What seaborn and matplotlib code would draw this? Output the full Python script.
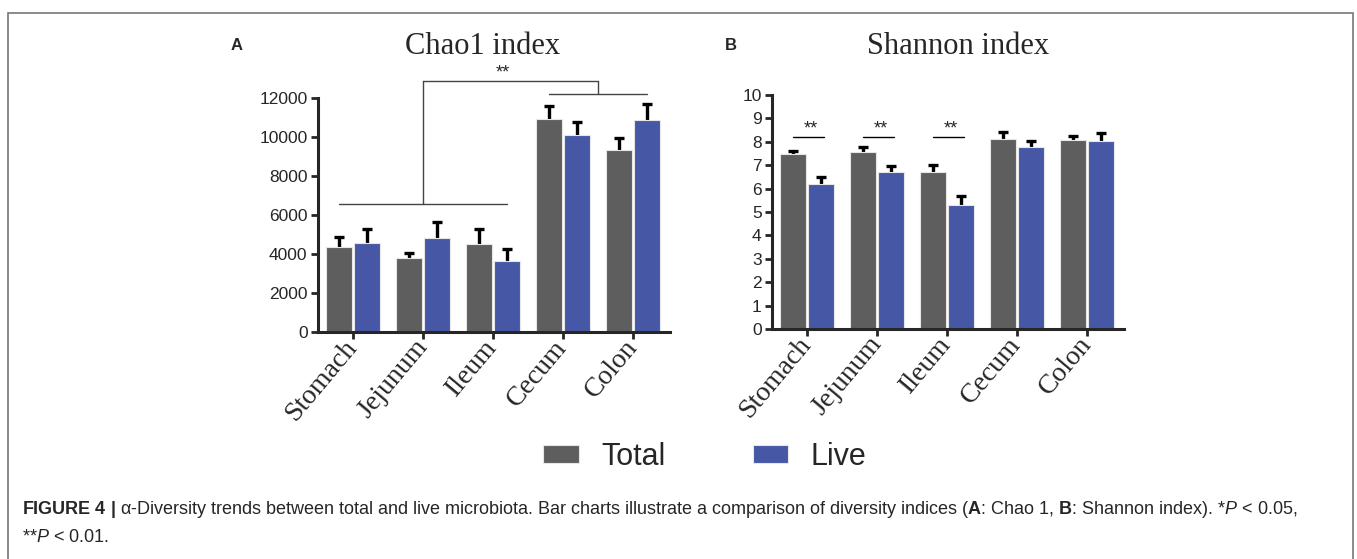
import numpy as np
import pandas as pd
import matplotlib
matplotlib.use('Agg')
import matplotlib.pyplot as plt
import seaborn as sns
from matplotlib.patches import Rectangle

# Data
sites = ['Stomach', 'Jejunum', 'Ileum', 'Cecum', 'Colon']
groups = ['Total', 'Live']

chao_total = [4360, 3800, 4530, 10940, 9350]
chao_total_err = [510, 250, 750, 630, 600]
chao_live = [4560, 4820, 3660, 10120, 10890]
chao_live_err = [720, 840, 600, 650, 790]

shannon_total = [7.46, 7.58, 6.72, 8.13, 8.08]
shannon_total_err = [0.16, 0.18, 0.29, 0.29, 0.18]
shannon_live = [6.18, 6.70, 5.30, 7.76, 8.05]
shannon_live_err = [0.33, 0.28, 0.40, 0.27, 0.31]

shannon_sig_sites = [0, 1, 2]

colors = {'Total': '#5e5e5e', 'Live': '#4657a6'}

W, H = 1357, 559

sns.set_style('ticks')
plt.rcParams['font.family'] = ['Liberation Sans', 'DejaVu Sans']
plt.rcParams['mathtext.fontset'] = 'custom'
plt.rcParams['mathtext.rm'] = 'Liberation Sans'
plt.rcParams['mathtext.it'] = 'Liberation Sans:italic'
plt.rcParams['mathtext.bf'] = 'Liberation Sans:bold'


def make_df(total, live):
    return pd.DataFrame({
        'site': sites * 2,
        'group': ['Total'] * len(sites) + ['Live'] * len(sites),
        'value': list(total) + list(live),
    })


def draw_panel(ax, total, total_err, live, live_err, ymax, yticks):
    df = make_df(total, live)
    sns.barplot(data=df, x='site', y='value', hue='group', hue_order=groups,
                palette=colors, errorbar=None, width=0.8, gap=0.06,
                edgecolor='#e6e6e6', linewidth=0.8, saturation=1, ax=ax,
                zorder=2)
    errs = {'Total': total_err, 'Live': live_err}
    for cont, g in zip(ax.containers, groups):
        xs = [p.get_x() + p.get_width() / 2 for p in cont.patches]
        ys = [p.get_height() for p in cont.patches]
        e = np.array(errs[g])
        eb = ax.errorbar(xs, ys, yerr=[np.zeros_like(e), e], fmt='none',
                         ecolor='black', elinewidth=2.4, capsize=3.8,
                         capthick=2.4, zorder=1)
        # only the upper half is shown, drop the lower cap
        eb[1][0].remove()
    ax.set_xlim(-0.5, 4.53)
    ax.set_ylim(0, ymax)
    ax.set_yticks(yticks)
    ax.set_xlabel('')
    ax.set_ylabel('')
    ax.get_legend().remove()
    sns.despine(ax=ax)
    for s in ['left', 'bottom']:
        ax.spines[s].set_linewidth(2.2)
        ax.spines[s].set_zorder(3)
    ax.tick_params(axis='y', length=5, width=2, pad=2.5, labelsize=12.5)
    ax.tick_params(axis='x', length=5, width=2, pad=3)
    ax.set_xticks(range(len(sites)))
    ax.set_xticklabels(sites, rotation=50, ha='right', va='center',
                       rotation_mode='anchor', fontsize=20,
                       family='Liberation Serif')


fig = plt.figure(figsize=(W / 100, H / 100), dpi=100)
axA = fig.add_axes([318 / W, 1 - 332 / H, 352 / W, 234 / H])
axB = fig.add_axes([772 / W, 1 - 329 / H, 352 / W, 234 / H])

draw_panel(axA, chao_total, chao_total_err, chao_live, chao_live_err,
           12000, range(0, 12001, 2000))
draw_panel(axB, shannon_total, shannon_total_err, shannon_live, shannon_live_err,
           10, range(0, 11))

# Chao1 bracket: small intestine vs large intestine
lc = '#444444'
axA.plot([-0.2, 2.2], [6560, 6560], color=lc, lw=1, clip_on=False)
axA.plot([1.0, 1.0], [6560, 12890], color=lc, lw=1, clip_on=False)
axA.plot([2.8, 4.2], [12220, 12220], color=lc, lw=1, clip_on=False)
axA.plot([3.5, 3.5], [12220, 12890], color=lc, lw=1, clip_on=False)
axA.plot([1.0, 3.5], [12890, 12890], color=lc, lw=1, clip_on=False)
axA.text(2.14, 12850, '**', ha='center', va='bottom', fontsize=13)

# Shannon pairwise marks
for i in shannon_sig_sites:
    axB.plot([i - 0.2, i + 0.25], [8.19, 8.19], color='black', lw=1)
    axB.text(i + 0.05, 8.18, '**', ha='center', va='bottom', fontsize=13)

# Titles and panel letters
fig.text(483 / W, 1 - 47 / H, 'Chao1 index', ha='center', va='center',
         fontsize=22, family='Liberation Serif')
fig.text(958 / W, 1 - 47 / H, 'Shannon index', ha='center', va='center',
         fontsize=22, family='Liberation Serif')
fig.text(237 / W, 1 - 45 / H, 'A', ha='center', va='center',
         fontsize=12, weight='bold')
fig.text(731 / W, 1 - 45 / H, 'B', ha='center', va='center',
         fontsize=12, weight='bold')

# Legend
handles = [Rectangle((0, 0), 1, 1, facecolor=colors[g], edgecolor='#e6e6e6', lw=0.8)
           for g in groups]
fig.legend(handles, groups, loc='center', bbox_to_anchor=(705 / W, 1 - 457 / H),
           ncol=2, frameon=False, fontsize=22, handlelength=1.15,
           handleheight=0.55, handletextpad=0.75, columnspacing=2.85)

# Caption
cap1 = (r'$\mathbf{FIGURE\ 4\ |}$ α-Diversity trends between total and live microbiota. '
        r'Bar charts illustrate a comparison of diversity indices '
        r'($\mathbf{A}$: Chao 1, $\mathbf{B}$: Shannon index). *$P$ < 0.05,')
cap2 = r'**$P$ < 0.01.'
fig.text(22 / W, 1 - 510 / H, cap1, ha='left', va='center', fontsize=13)
fig.text(22 / W, 1 - 537 / H, cap2, ha='left', va='center', fontsize=13)

# Frame around the figure
fig.patches.append(Rectangle((8 / W, -0.05), (1353 - 8) / W, 1 - 13 / H + 0.05,
                             transform=fig.transFigure, fill=False,
                             edgecolor='#777777', lw=1.2))

fig.savefig('out.png', dpi=100)
